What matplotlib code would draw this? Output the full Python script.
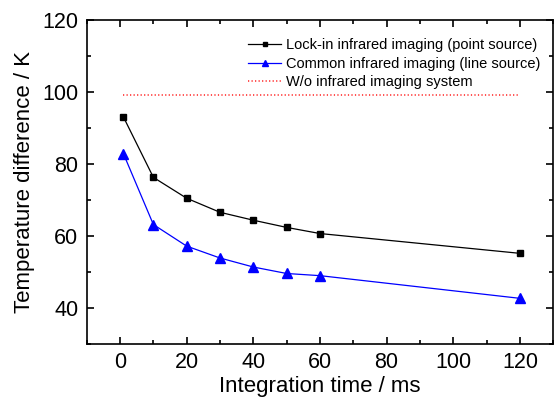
import matplotlib
matplotlib.use("Agg")
import matplotlib.pyplot as plt
from matplotlib.ticker import MultipleLocator

plt.rcParams['font.family'] = ['Liberation Sans', 'DejaVu Sans']

t = [1, 10, 20, 30, 40, 50, 60, 120]
lockin = [93.1, 76.3, 70.5, 66.6, 64.4, 62.4, 60.7, 55.2]
common = [82.9, 63.2, 57.2, 53.9, 51.4, 49.6, 49.0, 42.7]
wo_x = [1, 120]
wo_y = [99.1, 99.1]

fig = plt.figure(figsize=(5.56, 4.01), dpi=100)
ax = fig.add_axes([0.156, 0.142, 0.839, 0.808])

ax.plot(t, lockin, color='black', lw=0.9, marker='s', ms=5,
        label='Lock-in infrared imaging (point source)')
ax.plot(t, common, color='blue', lw=0.9, marker='^', ms=6.5,
        label='Common infrared imaging (line source)')
ax.plot(wo_x, wo_y, color='#ff2020', lw=1.1, ls=(0, (0.8, 1.5)),
        label='W/o infrared imaging system')

ax.set_xlim(-10, 130)
ax.set_ylim(30, 120)
ax.xaxis.set_major_locator(MultipleLocator(20))
ax.xaxis.set_minor_locator(MultipleLocator(10))
ax.yaxis.set_major_locator(MultipleLocator(20))
ax.yaxis.set_minor_locator(MultipleLocator(10))
ax.tick_params(which='both', direction='in', top=True, right=True,
               width=1.2, labelsize=15.5)
ax.tick_params(which='major', length=5, pad=6)
ax.tick_params(which='minor', length=3)
for s in ax.spines.values():
    s.set_linewidth(1.2)

ax.set_xlabel('Integration time / ms', fontsize=16, labelpad=2)
ax.set_ylabel('Temperature difference / K', fontsize=16, labelpad=5)

ax.legend(loc='upper right', bbox_to_anchor=(1.0, 0.985), frameon=False,
          fontsize=10.5, handlelength=2.3, handletextpad=0.3,
          labelspacing=0.32, borderaxespad=0.5, markerscale=0.65)

fig.savefig('out.png', dpi=100)
